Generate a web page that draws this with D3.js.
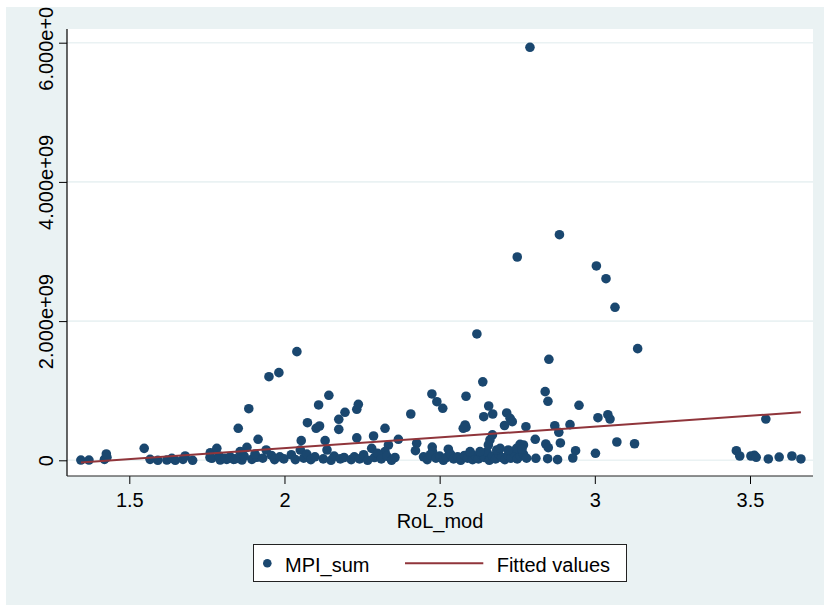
<!DOCTYPE html>
<html>
<head>
<meta charset="utf-8">
<script src="https://cdn.jsdelivr.net/npm/d3@7"></script>
<style>
  body { margin: 0; background: #ffffff; }
  svg { display: block; }
  text { font-family: "Liberation Sans", Arial, sans-serif; fill: #000; }
</style>
</head>
<body>
<svg id="chart" width="824" height="605"></svg>
<script>
// Rule-of-law score (x) and MPI_sum (y) for each observation
const rolMod = [
  1.344, 1.370, 1.420, 1.428, 1.426, 1.548, 1.567, 1.592, 1.621, 1.637,
  1.648, 1.673, 1.680, 1.704, 1.761, 1.766, 1.782, 1.793, 1.814, 1.836,
  1.851, 1.857, 1.863, 1.879, 1.885, 1.895, 1.911, 1.915, 1.950, 1.982,
  2.040, 1.760, 1.790, 1.808, 1.825, 1.842, 1.870, 1.905, 1.941, 2.054,
  2.074, 2.102, 2.113, 2.110, 2.131, 2.143, 2.175, 2.175, 2.195, 2.233,
  2.238, 2.233, 2.287, 2.324, 2.367, 2.407, 2.426, 2.422, 2.475, 2.491,
  2.510, 2.476, 2.477, 2.528, 2.051, 2.137, 2.281, 2.335, 2.324,
  1.930, 1.958, 1.968, 1.985, 1.998, 2.022, 2.035, 2.062, 2.072, 2.085,
  2.098, 2.125, 2.150, 2.160, 2.180, 2.192, 2.215, 2.225, 2.242, 2.255,
  2.268, 2.290, 2.300, 2.312, 2.330, 2.345, 2.356,
  2.448, 2.460, 2.470, 2.488, 2.500, 2.512, 2.522, 2.535, 2.545, 2.558,
  2.568, 2.580, 2.590, 2.600, 2.606, 2.615, 2.625, 2.635, 2.645, 2.652,
  2.660, 2.670, 2.680, 2.690, 2.700, 2.710, 2.720, 2.730, 2.740, 2.750,
  2.760, 2.770, 2.780, 2.598, 2.630, 2.684, 2.748, 2.770,
  2.639, 2.585, 2.620, 2.658, 2.671, 2.642, 2.716, 2.727, 2.734, 2.582,
  2.585, 2.576, 2.709, 2.778, 2.670, 2.662, 2.657, 2.808, 2.759, 2.765,
  2.721, 2.695, 2.810,
  2.750, 2.791, 2.886, 3.005, 3.036, 3.065, 3.138, 2.852, 2.840, 2.849,
  2.949, 3.010, 3.042, 3.049, 2.871, 2.920, 2.884, 2.842, 2.850, 2.889,
  2.938, 2.929, 2.848, 2.880, 3.002, 3.071, 3.128, 3.456, 3.467, 3.503,
  3.514, 3.520, 3.559, 3.551, 3.594, 3.635, 3.664
];
const mpiSum = [
  0.004e9, 0.004e9, 0.014e9, 0.043e9, 0.091e9, 0.172e9, 0.014e9, 0.000e9, 0.004e9, 0.029e9,
  0.000e9, 0.014e9, 0.062e9, 0.000e9, 0.109e9, 0.029e9, 0.172e9, 0.004e9, 0.014e9, 0.014e9,
  0.460e9, 0.124e9, 0.004e9, 0.187e9, 0.741e9, 0.014e9, 0.043e9, 0.302e9, 1.201e9, 1.259e9,
  1.561e9, 0.040e9, 0.060e9, 0.030e9, 0.050e9, 0.020e9, 0.060e9, 0.090e9, 0.148e9, 0.282e9,
  0.540e9, 0.460e9, 0.493e9, 0.795e9, 0.282e9, 0.934e9, 0.589e9, 0.445e9, 0.690e9, 0.733e9,
  0.805e9, 0.322e9, 0.349e9, 0.460e9, 0.302e9, 0.665e9, 0.245e9, 0.138e9, 0.953e9, 0.842e9,
  0.747e9, 0.190e9, 0.124e9, 0.159e9, 0.148e9, 0.148e9, 0.172e9, 0.220e9, 0.124e9,
  0.030e9, 0.070e9, 0.010e9, 0.050e9, 0.020e9, 0.080e9, 0.010e9, 0.030e9, 0.090e9, 0.010e9,
  0.050e9, 0.020e9, 0.000e9, 0.060e9, 0.020e9, 0.040e9, 0.010e9, 0.050e9, 0.020e9, 0.080e9,
  0.000e9, 0.040e9, 0.100e9, 0.020e9, 0.060e9, 0.000e9, 0.040e9,
  0.050e9, 0.010e9, 0.080e9, 0.030e9, 0.060e9, 0.000e9, 0.040e9, 0.090e9, 0.020e9, 0.050e9,
  0.000e9, 0.070e9, 0.030e9, 0.100e9, 0.010e9, 0.060e9, 0.020e9, 0.080e9, 0.040e9, 0.120e9,
  0.000e9, 0.060e9, 0.020e9, 0.090e9, 0.040e9, 0.010e9, 0.070e9, 0.030e9, 0.100e9, 0.020e9,
  0.060e9, 0.090e9, 0.030e9, 0.124e9, 0.124e9, 0.148e9, 0.172e9, 0.220e9,
  1.127e9, 0.920e9, 1.815e9, 0.780e9, 0.665e9, 0.626e9, 0.680e9, 0.603e9, 0.555e9, 0.507e9,
  0.474e9, 0.460e9, 0.500e9, 0.483e9, 0.365e9, 0.292e9, 0.220e9, 0.302e9, 0.230e9, 0.158e9,
  0.148e9, 0.172e9, 0.029e9,
  2.921e9, 5.934e9, 3.241e9, 2.792e9, 2.609e9, 2.198e9, 1.604e9, 1.451e9, 0.986e9, 0.848e9,
  0.790e9, 0.612e9, 0.655e9, 0.593e9, 0.497e9, 0.512e9, 0.402e9, 0.234e9, 0.181e9, 0.249e9,
  0.138e9, 0.033e9, 0.023e9, 0.009e9, 0.101e9, 0.263e9, 0.238e9, 0.138e9, 0.062e9, 0.062e9,
  0.072e9, 0.043e9, 0.019e9, 0.593e9, 0.047e9, 0.062e9, 0.019e9
];

// Fitted values: end points of the linear fit over the observed RoL_mod range
const fitX = [1.344, 3.664];
const fitY = [-0.03e9, 0.69e9];

// Axis ticks and their labels
const xTicks = [1.5, 2, 2.5, 3, 3.5];
const xTickLabels = ["1.5", "2", "2.5", "3", "3.5"];
const yTicks = [0, 2e9, 4e9, 6e9];
const yTickLabels = ["0", "2.000e+09", "4.000e+09", "6.000e+09"];

const seriesNames = ["MPI_sum", "Fitted values"];
const markerColor = "#1a476f";
const fitColor = "#90353b";
const bgColor = "#eaf2f3";

const svg = d3.select("#chart");

// Graph region (everything is clipped to it)
const outer = { x: 6, y: 7, w: 818, h: 598 };
svg.append("defs").append("clipPath").attr("id", "graphClip")
  .append("rect").attr("x", outer.x).attr("y", outer.y).attr("width", outer.w).attr("height", outer.h);
const g = svg.append("g").attr("clip-path", "url(#graphClip)");
g.append("rect").attr("x", outer.x).attr("y", outer.y).attr("width", outer.w).attr("height", outer.h)
  .attr("fill", bgColor);

// Plot region
const plot = { left: 67, right: 813, top: 29, bottom: 476 };
g.append("rect")
  .attr("x", plot.left).attr("y", plot.top)
  .attr("width", plot.right - plot.left).attr("height", plot.bottom - plot.top)
  .attr("fill", "#ffffff");

const x = d3.scaleLinear().domain([1.5, 3.5]).range([129.3, 750]);
const y = d3.scaleLinear().domain([0, 6e9]).range([460.3, 42.7]);

// Horizontal gridlines
g.append("g").selectAll("line").data(yTicks).join("line")
  .attr("x1", plot.left).attr("x2", plot.right)
  .attr("y1", d => y(d)).attr("y2", d => y(d))
  .attr("stroke", bgColor).attr("stroke-width", 1.6);

// Y axis
const yAxis = g.append("g").attr("transform", `translate(${plot.left},0)`)
  .call(d3.axisLeft(y).tickValues(yTicks).tickFormat((d, i) => yTickLabels[i]).tickSize(8));
yAxis.select(".domain").remove();
yAxis.selectAll(".tick line").attr("stroke", "#000").attr("stroke-width", 1);
yAxis.selectAll(".tick text")
  .attr("x", null).attr("dy", null)
  .attr("transform", "translate(-14,0) rotate(-90)")
  .attr("text-anchor", "middle")
  .style("font-size", "20px").attr("fill", "#000");
g.append("line")
  .attr("x1", plot.left).attr("x2", plot.left)
  .attr("y1", plot.top).attr("y2", plot.bottom)
  .attr("stroke", "#000").attr("stroke-width", 1.2);

// X axis
const xAxis = g.append("g").attr("transform", `translate(0,${plot.bottom})`)
  .call(d3.axisBottom(x).tickValues(xTicks).tickFormat((d, i) => xTickLabels[i]).tickSize(8));
xAxis.select(".domain").remove();
xAxis.selectAll(".tick line").attr("stroke", "#000").attr("stroke-width", 1);
xAxis.selectAll(".tick text")
  .attr("y", 30.7).attr("dy", null)
  .style("font-size", "20px").attr("fill", "#000");
g.append("line")
  .attr("x1", plot.left).attr("x2", plot.right)
  .attr("y1", plot.bottom).attr("y2", plot.bottom)
  .attr("stroke", "#222").attr("stroke-width", 1.2);

// Axis title
g.append("text")
  .attr("x", (plot.left + plot.right) / 2).attr("y", 528)
  .attr("text-anchor", "middle").style("font-size", "20px")
  .text("RoL_mod");

// Scatter points
g.append("g").selectAll("circle").data(d3.range(rolMod.length)).join("circle")
  .attr("cx", i => x(rolMod[i])).attr("cy", i => y(mpiSum[i]))
  .attr("r", 4.8).attr("fill", markerColor);

// Fitted line
g.append("path")
  .datum(d3.range(fitX.length))
  .attr("d", d3.line().x(i => x(fitX[i])).y(i => y(fitY[i])))
  .attr("fill", "none").attr("stroke", fitColor).attr("stroke-width", 2);

// Legend
const lg = g.append("g");
lg.append("rect")
  .attr("x", 253.5).attr("y", 544.5).attr("width", 373).attr("height", 37)
  .attr("fill", "#ffffff").attr("stroke", "#222").attr("stroke-width", 1);
lg.append("circle").attr("cx", 267.3).attr("cy", 563.3).attr("r", 4.3).attr("fill", markerColor);
lg.append("text").attr("x", 285).attr("y", 571.5).style("font-size", "20px").text(seriesNames[0]);
lg.append("line").attr("x1", 405).attr("x2", 483.3).attr("y1", 563.3).attr("y2", 563.3)
  .attr("stroke", fitColor).attr("stroke-width", 2);
lg.append("text").attr("x", 496.7).attr("y", 571.5).style("font-size", "20px").text(seriesNames[1]);
</script>
</body>
</html>
